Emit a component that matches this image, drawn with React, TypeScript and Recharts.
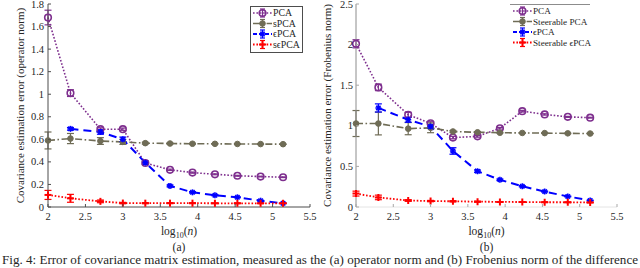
import { LineChart, Line, XAxis, YAxis, ErrorBar, Legend } from 'recharts'

const LOG_N = [2, 2.3, 2.7, 3, 3.3, 3.63, 3.93, 4.23, 4.53, 4.84, 5.14]
const X_TICKS = [2, 2.5, 3, 3.5, 4, 4.5, 5, 5.5]

// (a) operator norm
const PCA_OP = [1.68, 1.01, 0.69, 0.69, 0.39, 0.33, 0.305, 0.29, 0.277, 0.27, 0.264]
const PCA_OP_ERR = [0.065, 0.03, 0.012, 0.01, 0.008, 0.006, 0.005, 0.004, 0.004, 0.003, 0.003]
const SPCA_OP = [0.59, 0.607, 0.585, 0.577, 0.566, 0.563, 0.561, 0.56, 0.559, 0.558, 0.557]
const SPCA_OP_ERR = [0.075, 0.045, 0.03, 0.022, 0.008, 0.005, 0.004, 0.003, 0.003, 0.002, 0.002]
const EPCA_OP = [null, 0.693, 0.665, 0.6, 0.393, 0.187, 0.13, 0.104, 0.086, 0.056, 0.033]
const EPCA_OP_ERR = [0, 0.012, 0.02, 0.02, 0.015, 0.008, 0.006, 0.005, 0.004, 0.004, 0.003]
const SEPCA_OP = [0.107, 0.077, 0.05, 0.035, 0.034, 0.034, 0.034, 0.033, 0.033, 0.033, 0.033]
const SEPCA_OP_ERR = [0.04, 0.035, 0.012, 0.006, 0.004, 0.003, 0.003, 0.002, 0.002, 0.002, 0.002]
const Y_TICKS_OP = [0, 0.2, 0.4, 0.6, 0.8, 1, 1.2, 1.4, 1.6, 1.8]
const LABELS_OP = ['PCA', 'sPCA', 'ϵPCA', 'sϵPCA']

// (b) Frobenius norm
const PCA_FRO = [2.01, 1.473, 1.136, 1.03, 0.855, 0.87, 0.97, 1.18, 1.14, 1.11, 1.1]
const PCA_FRO_ERR = [0.05, 0.04, 0.03, 0.02, 0.015, 0.01, 0.01, 0.01, 0.008, 0.006, 0.005]
const SPCA_FRO = [1.028, 1.028, 0.965, 0.975, 0.93, 0.92, 0.915, 0.912, 0.91, 0.907, 0.905]
const SPCA_FRO_ERR = [0.16, 0.14, 0.075, 0.06, 0.012, 0.008, 0.006, 0.005, 0.004, 0.004, 0.003]
const EPCA_FRO = [null, 1.22, 1.074, 0.99, 0.69, 0.44, 0.335, 0.255, 0.19, 0.13, 0.08]
const EPCA_FRO_ERR = [0, 0.05, 0.03, 0.02, 0.04, 0.015, 0.01, 0.008, 0.006, 0.005, 0.004]
const SEPCA_FRO = [0.165, 0.118, 0.08, 0.073, 0.07, 0.066, 0.063, 0.061, 0.059, 0.058, 0.056]
const SEPCA_FRO_ERR = [0.03, 0.028, 0.01, 0.008, 0.006, 0.005, 0.004, 0.003, 0.003, 0.003, 0.003]
const Y_TICKS_FRO = [0, 0.5, 1, 1.5, 2, 2.5]
const LABELS_FRO = ['PCA', 'Steerable PCA', 'ϵPCA', 'Steerable ϵPCA']

const CAPTION = 'Fig. 4: Error of covariance matrix estimation, measured as the (a) operator norm and (b) Frobenius norm of the difference'

const FONT = "'Liberation Serif', 'Times New Roman', serif"
const PLOT_TOP = 4
const PLOT_BOTTOM = 207
const TICK = 3

const SERIES = [
  { key: 'pca', color: '#7E2F8E', dash: '1.6 1.8', width: 1.6, shape: 'ring' },
  { key: 'spca', color: '#6F6C56', dash: '7 2.5 1.6 2.5', width: 1.6, shape: 'disc' },
  { key: 'epca', color: '#0000FF', dash: '8 5', width: 2, shape: 'star' },
  { key: 'sepca', color: '#FF0000', dash: '1.6 1.8', width: 1.8, shape: 'plus' },
]

function buildRows(a: any[], aE: number[], b: any[], bE: number[], c: any[], cE: number[], d: any[], dE: number[]) {
  return LOG_N.map((x, i) => ({
    x,
    pca: a[i], pcaErr: aE[i],
    spca: b[i], spcaErr: bE[i],
    epca: c[i], epcaErr: cE[i],
    sepca: d[i], sepcaErr: dE[i],
  }))
}

const rowsOp = buildRows(PCA_OP, PCA_OP_ERR, SPCA_OP, SPCA_OP_ERR, EPCA_OP, EPCA_OP_ERR, SEPCA_OP, SEPCA_OP_ERR)
const rowsFro = buildRows(PCA_FRO, PCA_FRO_ERR, SPCA_FRO, SPCA_FRO_ERR, EPCA_FRO, EPCA_FRO_ERR, SEPCA_FRO, SEPCA_FRO_ERR)

function Marker({ shape, color, cx, cy }: any) {
  if (shape === 'ring') return <circle cx={cx} cy={cy} r={3.3} fill="none" stroke={color} strokeWidth={1.6} />
  if (shape === 'disc') return <circle cx={cx} cy={cy} r={2.8} fill={color} stroke={color} />
  if (shape === 'star')
    return (
      <g stroke={color} strokeWidth={1.6}>
        <line x1={cx - 3} x2={cx + 3} y1={cy} y2={cy} />
        <line x1={cx} x2={cx} y1={cy - 3} y2={cy + 3} />
        <line x1={cx - 2.2} x2={cx + 2.2} y1={cy - 2.2} y2={cy + 2.2} />
        <line x1={cx - 2.2} x2={cx + 2.2} y1={cy + 2.2} y2={cy - 2.2} />
      </g>
    )
  return (
    <g stroke={color} strokeWidth={2}>
      <line x1={cx - 3.5} x2={cx + 3.5} y1={cy} y2={cy} />
      <line x1={cx} x2={cx} y1={cy - 3.5} y2={cy + 3.5} />
    </g>
  )
}

const makeDot = (shape: string, color: string) => (p: any) => {
  if (p.cx == null || p.cy == null || Number.isNaN(p.cy)) return <g key={p.index} />
  return <Marker key={p.index} shape={shape} color={color} cx={p.cx} cy={p.cy} />
}

const bottomTick = (color: string) => (p: any) => (
  <g>
    <line x1={p.x} x2={p.x} y1={PLOT_BOTTOM} y2={PLOT_BOTTOM - TICK} stroke={color} />
    <text x={p.x} y={PLOT_BOTTOM + 13} textAnchor="middle" fontSize={10.5} fontFamily={FONT} fill="#262626">
      {p.payload.value}
    </text>
  </g>
)

const topTick = (color: string) => (p: any) => (
  <line x1={p.x} x2={p.x} y1={PLOT_TOP} y2={PLOT_TOP + TICK} stroke={color} />
)

const leftTick = (color: string, plotLeft: number, gap: number) => (p: any) => (
  <g>
    <line x1={plotLeft} x2={plotLeft + TICK} y1={p.y} y2={p.y} stroke={color} />
    <text x={plotLeft - gap} y={p.y + 3.5} textAnchor="end" fontSize={10.5} fontFamily={FONT} fill="#262626">
      {p.payload.value}
    </text>
  </g>
)

const rightTick = (color: string, plotRight: number) => (p: any) => (
  <line x1={plotRight} x2={plotRight - TICK} y1={p.y} y2={p.y} stroke={color} />
)

function XLabel({ viewBox, letter }: any) {
  const cx = viewBox.x + viewBox.width / 2
  return (
    <g fontFamily={FONT} fill="#262626">
      <text x={cx} y={235} textAnchor="middle" fontSize={11.5}>
        log<tspan fontSize={8} dy={3}>10</tspan>
        <tspan dy={-3}>(</tspan>
        <tspan fontStyle="italic">n</tspan>)
      </text>
      <text x={cx} y={251} textAnchor="middle" fontSize={11.5}>({letter})</text>
    </g>
  )
}

function YLabel({ viewBox, text, baseX }: any) {
  const cy = viewBox.y + viewBox.height / 2
  return (
    <text x={baseX} y={cy} transform={`rotate(-90 ${baseX} ${cy})`} textAnchor="middle" fontSize={11} fontFamily={FONT} fill="#262626">
      {text}
    </text>
  )
}

function LegendBox({ labels, width, boxed, fontSize }: any) {
  return (
    <svg width={width} height={48} style={{ display: 'block' }}>
      {boxed ? (
        <rect x={0.5} y={0.5} width={width - 1} height={46} fill="#fff" stroke="#4d4d4d" />
      ) : (
        <g>
          <rect x={0} y={0} width={width} height={46} fill="#fff" />
          <line x1={0} x2={width - 8} y1={0.5} y2={0.5} stroke="#8c8c8c" />
        </g>
      )}
      {SERIES.map((s, i) => {
        const y = 7 + i * 10.5
        return (
          <g key={s.key}>
            <line x1={3} x2={22} y1={y} y2={y} stroke={s.color} strokeWidth={s.width} strokeDasharray={s.key === 'epca' ? '4 2' : s.dash} />
            <g stroke={s.color} strokeWidth={1.2}>
              <line x1={12.5} x2={12.5} y1={y - 4} y2={y + 4} />
              <line x1={10} x2={15} y1={y - 4} y2={y - 4} />
              <line x1={10} x2={15} y1={y + 4} y2={y + 4} />
            </g>
            <Marker shape={s.shape} color={s.color} cx={12.5} cy={y} />
            <text x={23} y={y + 3.2} fontSize={fontSize} fontFamily={FONT} fill="#262626">{labels[i]}</text>
          </g>
        )
      })}
    </svg>
  )
}

function Panel({ rows, yTicks, yMax, yLabel, letter, labels, left, yWidth, right, boxed, legendPos, labelX }: any) {
  const plotLeft = yWidth
  const plotRight = 320 - right
  const frame = boxed ? '#4d4d4d' : '#e4e4e4'
  const tickColor = boxed ? '#4d4d4d' : '#a8a8a8'
  const leftColor = boxed ? '#4d4d4d' : '#8c8c8c'
  return (
    <div style={{ position: 'absolute', left, top: 0 }}>
      <LineChart width={320} height={268} data={rows} margin={{ top: PLOT_TOP, right, bottom: 0, left: 0 }}>
        <XAxis
          dataKey="x" type="number" domain={[2, 5.5]} ticks={X_TICKS} height={61} interval={0}
          tickLine={false} axisLine={{ stroke: frame }} tick={bottomTick(tickColor)}
          label={<XLabel letter={letter} />}
        />
        <XAxis
          xAxisId="top" orientation="top" dataKey="x" type="number" domain={[2, 5.5]} ticks={X_TICKS}
          height={0} interval={0} tickLine={false} axisLine={{ stroke: frame }} tick={topTick(tickColor)}
        />
        <YAxis
          type="number" domain={[0, yMax]} ticks={yTicks} width={yWidth} allowDataOverflow interval={0}
          tickLine={false} axisLine={{ stroke: leftColor }} tick={leftTick(tickColor, plotLeft, boxed ? 4 : 3)}
          label={<YLabel text={yLabel} baseX={labelX} />}
        />
        <YAxis
          yAxisId="right" orientation="right" type="number" domain={[0, yMax]} ticks={yTicks} width={0} interval={0}
          tickLine={false} axisLine={{ stroke: frame }} tick={rightTick(tickColor, plotRight)}
        />
        <Legend
          layout="horizontal" verticalAlign="middle" align="center"
          wrapperStyle={{ left: legendPos[0], top: legendPos[1], width: legendPos[2], height: 48 }}
          content={() => <LegendBox labels={labels} width={legendPos[2]} boxed={boxed} fontSize={boxed ? 9.8 : 9.2} />}
        />
        {SERIES.map((s) => (
          <Line
            key={s.key} dataKey={s.key} name={s.key} stroke={s.color} strokeWidth={s.width}
            strokeDasharray={s.dash} dot={makeDot(s.shape, s.color)} activeDot={false}
            isAnimationActive={false} legendType="none"
          >
            <ErrorBar dataKey={`${s.key}Err`} width={3.5} stroke={s.color} strokeWidth={1.2} direction="y" />
          </Line>
        ))}
      </LineChart>
    </div>
  )
}

export default function App() {
  return (
    <div style={{ position: 'absolute', left: 0, top: 0, width: 640, height: 268, overflow: 'hidden', background: '#fff' }}>
      <svg width={640} height={268} style={{ position: 'absolute', left: 0, top: 0 }}>
        <text x={2} y={264} fontSize={13} fontFamily={FONT} fill="#262626" textLength={636} lengthAdjust="spacingAndGlyphs">
          {CAPTION}
        </text>
      </svg>
      <Panel
        rows={rowsOp} yTicks={Y_TICKS_OP} yMax={1.8} letter="a" labels={LABELS_OP}
        yLabel="Covariance estimation error (operator norm)"
        left={0} yWidth={48} right={10} boxed legendPos={[250, 6, 53]} labelX={24}
      />
      <Panel
        rows={rowsFro} yTicks={Y_TICKS_FRO} yMax={2.5} letter="b" labels={LABELS_FRO}
        yLabel="Covariance estimation error (Frobenius norm)"
        left={320} yWidth={36} right={23} boxed={false} legendPos={[190, 4, 88]} labelX={11}
      />
    </div>
  )
}
